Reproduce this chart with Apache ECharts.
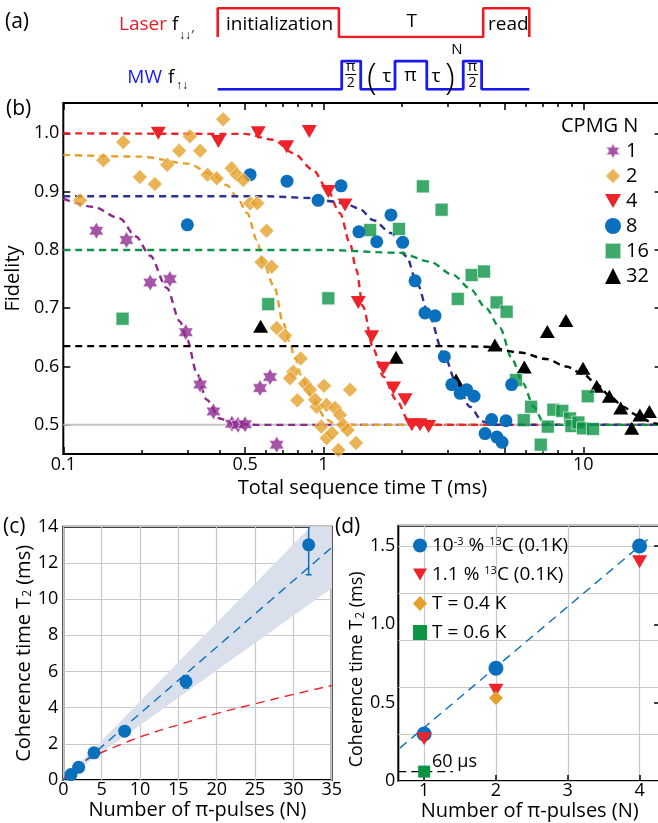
<!DOCTYPE html>
<html>
<head>
<meta charset="utf-8">
<script src="https://cdn.jsdelivr.net/npm/echarts@6/dist/echarts.min.js"></script>
<style>
  html, body { margin: 0; padding: 0; background: #fff; }
  #chart { width: 658px; height: 823px; }
</style>
</head>
<body>
<div id="chart"></div>
<script>
// ---------- (a) pulse sequence: edge times (0..100 across the sequence) and on/off state
const laserTimes = [0, 0, 38.9, 38.9, 85.2, 85.2, 100, 100];
const laserState = [0, 1, 1, 0, 0, 1, 1, 0];
const mwTimes = [0, 39.8, 39.8, 45.9, 45.9, 56.9, 56.9, 67.1, 67.1, 78.8, 78.8, 84.7, 84.7, 100];
const mwState = [0, 0, 1, 1, 0, 0, 1, 1, 0, 0, 1, 1, 0, 0];

// ---------- (b) CPMG fidelity vs total sequence time T (ms)
const cpmg1 = [[0.134,0.833],[0.175,0.817],[0.216,0.744],[0.257,0.750],[0.296,0.659],[0.336,0.569],
  [0.378,0.523],[0.445,0.502],[0.47,0.500],[0.50,0.501],[0.571,0.563],[0.624,0.582],[0.662,0.466]];
const cpmg2 = [[0.116,0.885],[0.1425,0.954],[0.170,0.985],[0.197,0.925],[0.225,0.913],[0.251,0.946],
  [0.279,0.970],[0.307,0.995],[0.336,0.970],[0.412,1.024],[0.359,0.929],[0.389,0.923],[0.444,0.940],
  [0.465,0.929],[0.492,0.920],[0.523,0.880],[0.557,0.880],[0.605,0.833],[0.579,0.779],[0.633,0.771],
  [0.662,0.666],[0.713,0.653],[0.818,0.614],[0.767,0.591],[0.745,0.580],[0.850,0.571],[0.889,0.560],
  [1.006,0.567],[1.267,0.560],[0.794,0.542],[0.943,0.531],[0.930,0.543],[1.030,0.534],[1.109,0.529],
  [1.159,0.517],[1.194,0.500],[1.240,0.491],[0.982,0.497],[1.030,0.477],[1.143,0.457],[1.336,0.469],
  [1.08,0.486]];
const cpmg4 = [[0.232,1.000],[0.395,0.986],[0.562,1.001],[0.723,0.977],[0.883,1.003],[1.045,0.900],
  [1.212,0.877],[1.363,0.710],[1.535,0.651],[1.703,0.597],[1.862,0.563],[2.063,0.543],[2.19,0.500],
  [2.355,0.500],[2.54,0.497]];
const cpmg8 = [[0.300,0.843],[0.523,0.929],[0.725,0.918],[0.955,0.885],[1.17,0.910],[1.37,0.831],
  [1.605,0.814],[1.82,0.860],[2.02,0.813],[2.253,0.747],[2.46,0.692],[2.69,0.687],[2.92,0.617],
  [3.12,0.569],[3.36,0.554],[3.56,0.560],[3.80,0.549],[4.19,0.485],[4.44,0.509],[4.65,0.479],
  [4.87,0.470],[5.04,0.507],[5.30,0.569]];
const cpmg16 = [[0.169,0.682],[0.614,0.707],[1.045,0.717],[1.513,0.834],[1.955,0.836],[2.415,0.909],
  [2.85,0.869],[3.29,0.716],[3.72,0.757],[4.15,0.763],[4.64,0.710],[5.07,0.694],[5.51,0.577],
  [5.9,0.508],[6.3,0.531],[6.86,0.466],[7.3,0.497],[7.67,0.526],[8.3,0.524],[8.89,0.511],
  [9.0,0.498],[9.57,0.504],[9.97,0.494],[10.9,0.493],[10.4,0.549]];
const cpmg32 = [[0.574,0.669],[1.905,0.616],[3.24,0.577],[4.57,0.637],[5.93,0.599],[7.27,0.660],
  [8.57,0.679],[9.97,0.597],[11.26,0.566],[12.59,0.549],[13.93,0.529],[15.35,0.494],[16.5,0.517],
  [17.95,0.523]];

// stretched-exponential fits, sampled
const fit1 = [[0.1,0.888],[0.13,0.874],[0.165,0.854],[0.19,0.823],[0.216,0.790],[0.25,0.735],
  [0.281,0.677],[0.30,0.645],[0.326,0.589],[0.356,0.543],[0.40,0.511],[0.45,0.502],[0.55,0.5],[20,0.5]];
const fit2 = [[0.1,0.963],[0.2,0.960],[0.3,0.948],[0.378,0.929],[0.426,0.911],[0.465,0.891],
  [0.51,0.863],[0.555,0.817],[0.588,0.777],[0.65,0.735],[0.70,0.675],[0.745,0.640],[0.775,0.615],
  [0.835,0.577],[0.91,0.543],[1.03,0.509],[1.12,0.5],[20,0.5]];
const fit4 = [[0.1,1.0],[0.5,0.999],[0.642,0.989],[0.767,0.966],[0.915,0.937],[1.03,0.906],
  [1.159,0.863],[1.267,0.811],[1.34,0.766],[1.42,0.703],[1.56,0.629],[1.70,0.583],[1.91,0.543],
  [2.12,0.509],[2.29,0.5],[20,0.5]];
const fit8 = [[0.1,0.892],[0.6,0.892],[0.9,0.889],[1.1,0.883],[1.27,0.876],[1.38,0.870],[1.56,0.851],
  [1.82,0.829],[2.09,0.789],[2.29,0.743],[2.56,0.686],[2.89,0.623],[3.26,0.571],[3.66,0.531],
  [4.1,0.506],[4.5,0.5],[20,0.5]];
const fit16 = [[0.1,0.80],[1.0,0.80],[1.97,0.795],[2.56,0.78],[3.16,0.757],[3.66,0.734],[4.23,0.70],
  [4.78,0.666],[5.33,0.612],[5.86,0.571],[6.45,0.531],[7.0,0.506],[7.5,0.5],[20,0.5]];
const fit32 = [[0.1,0.635],[3.0,0.635],[4.2,0.634],[5.7,0.624],[7.2,0.613],[8.6,0.600],[10.0,0.587],
  [11.3,0.569],[12.7,0.549],[14.2,0.531],[16.0,0.517],[18.6,0.503],[20,0.5]];
const halfLevel = [[0.1,0.5],[20,0.5]];

const timeMajor = [0.1, 0.5, 1, 5, 10];
const timeLabels = [0.1, 0.5, 1, 10];
const timeMinor = [0.2, 0.3, 0.4, 0.6, 0.7, 0.8, 0.9, 2, 3, 4, 6, 7, 8, 9];
const fidTicks = [0.5, 0.6, 0.7, 0.8, 0.9, 1.0];
const legendB = ['1', '2', '4', '8', '16', '32'];

// ---------- (c) T2 vs number of pi pulses
const pulses = [1, 2, 4, 8, 16, 32];
const t2 = [0.30, 0.70, 1.50, 2.70, 5.43, 13.0];
const t2Lo = [0.27, 0.66, 1.45, 2.62, 5.08, 11.35];
const t2Hi = [0.33, 0.74, 1.55, 2.78, 5.78, 14.7];
const linFit = [[0, 0], [35, 12.85]];
const bandUpper = [[0, 0], [35, 15.2]];
const bandLower = [[0, 0], [35, 10.6]];
const sublinFit = [[0,0],[0.5,0.35],[1,0.55],[2,0.85],[4,1.33],[5,1.52],[8,2.05],[10,2.38],[15,3.05],
  [20,3.67],[25,4.21],[30,4.73],[35,5.22]];

// ---------- (d) low-N comparison
const dPure = [[1, 0.30], [2, 0.72], [4, 1.50]];
const dNat = [[1, 0.27], [2, 0.58], [4, 1.40]];
const dT04 = [[2, 0.53]];
const dT06 = [[1, 0.06]];
const dFit = [[0.66, 0.21], [4.17, 1.565]];
const d60 = [[0.64, 0.06], [1.4, 0.06]];
const dTicksX = [1, 2, 3, 4];
const dTicksY = [0, 0.5, 1.0, 1.5];
const legendD = ['10⁻³ % ¹³C (0.1K)', '1.1 % ¹³C (0.1K)', 'T = 0.4 K', 'T = 0.6 K'];

const FONT = '"Open Sans","Noto Sans",sans-serif';
const COL = {
  purple: '#8E2A8F', orange: '#E5A02B', red: '#EE2229', blue: '#0A6FBD',
  navy: '#2E3192', green: '#0C9446', black: '#000000', grid: '#c8c8c8', band: '#d9e0ec'
};
const STAR = 'path://M0,-100L28.87,-50L86.6,-50L57.74,0L86.6,50L28.87,50L0,100L-28.87,50L-86.6,50L-57.74,0L-86.6,-50L-28.87,-50Z';
const DOWN_TRI = 'path://M0,0L100,0L50,87Z';

const chart = echarts.init(document.getElementById('chart'), null, { renderer: 'canvas' });

const lbl = (size, extra) => Object.assign({ color: '#000', fontSize: size, fontFamily: FONT }, extra || {});
const subRich = { sub: { fontSize: 12, fontFamily: FONT, color: '#000', verticalAlign: 'bottom', padding: [0, 0, 0, 1] } };

function fitLine(name, data, color, xi, yi, width, dash, smoothing) {
  const s = smoothing || { smooth: 0.3, smoothMonotone: 'x' };
  return Object.assign({
    name, type: 'line', xAxisIndex: xi, yAxisIndex: yi, data, symbol: 'none', silent: true, z: 2,
    lineStyle: { color, width: width || 2.4, type: dash || [7, 5] }
  }, s);
}
function dots(name, data, symbol, size, color, xi, yi, extra) {
  return Object.assign({
    name, type: 'scatter', xAxisIndex: xi, yAxisIndex: yi, data, symbol, symbolSize: size,
    silent: true, z: 3, itemStyle: { color, opacity: 1 }
  }, extra || {});
}
const edged = { borderColor: 'rgba(255,255,255,0.75)', borderWidth: 1 };

// log-time axes for panel (b)
function timeAxis(pos, ticks, len, labels, extra) {
  return Object.assign({
    gridIndex: 2, type: 'log', logBase: 10, min: 0.1, max: 20, position: pos,
    axisLine: { show: false }, splitLine: { show: false },
    axisTick: { show: true, inside: true, length: len, customValues: ticks, lineStyle: { color: '#000', width: 1.5 } },
    axisLabel: labels ? {
      show: true, customValues: timeLabels, margin: 2, hideOverlap: false,
      formatter: v => String(+Number(v).toPrecision(3)), ...lbl(18)
    } : { show: false }
  }, extra || {});
}

const option = {
  animation: false,
  backgroundColor: '#fff',
  grid: [
    { left: 217.7, top: 8.3, width: 311.6, height: 28.7, outerBoundsMode: 'none' },
    { left: 217.7, top: 61, width: 311.6, height: 28.3, outerBoundsMode: 'none' },
    { left: 63.3, top: 103, width: 598.3, height: 351, show: true, borderColor: '#000', borderWidth: 2, outerBoundsMode: 'none' },
    { left: 63.3, top: 526.7, width: 268.4, height: 253.3, show: true, borderColor: '#000', borderWidth: 2, outerBoundsMode: 'none' },
    { left: 398.3, top: 525.7, width: 262.8, height: 255.3, show: true, borderColor: '#000', borderWidth: 2, outerBoundsMode: 'none' }
  ],
  xAxis: [
    { gridIndex: 0, type: 'value', min: 0, max: 100, show: false },
    { gridIndex: 1, type: 'value', min: 0, max: 100, show: false },
    timeAxis('bottom', timeMajor, 7, true, {
      name: 'Total sequence time T (ms)', nameLocation: 'middle', nameGap: 24, nameTextStyle: lbl(20)
    }),
    timeAxis('bottom', timeMinor, 4, false),
    timeAxis('top', timeMajor, 7, false),
    timeAxis('top', timeMinor, 4, false),
    {
      gridIndex: 3, type: 'value', min: 0, max: 35, interval: 5,
      axisLine: { show: false }, axisTick: { show: false },
      splitLine: { show: true, lineStyle: { color: COL.grid, width: 1.2 } },
      axisLabel: { margin: 1, ...lbl(18) },
      name: 'Number of π-pulses (N)', nameLocation: 'middle', nameGap: 17, nameTextStyle: lbl(20)
    },
    {
      gridIndex: 4, type: 'value', min: 0.64, max: 4.3,
      axisLine: { show: false },
      axisTick: { show: true, inside: true, length: 6, customValues: dTicksX, lineStyle: { color: '#000', width: 1.5 } },
      splitLine: { show: true, lineStyle: { color: COL.grid, width: 1.2 } },
      axisLabel: { margin: 1, customValues: dTicksX, ...lbl(18) },
      name: 'Number of π-pulses (N)', nameLocation: 'middle', nameGap: 18, nameTextStyle: lbl(20)
    }
  ],
  yAxis: [
    { gridIndex: 0, type: 'value', min: 0, max: 1, show: false },
    { gridIndex: 1, type: 'value', min: 0, max: 1, show: false },
    {
      gridIndex: 2, type: 'value', min: 0.45, max: 1.052, position: 'left',
      axisLine: { show: false }, splitLine: { show: false },
      axisTick: { show: true, inside: true, length: 7, customValues: fidTicks, lineStyle: { color: '#000', width: 1.5 } },
      axisLabel: { margin: 4, customValues: fidTicks, formatter: v => Number(v).toFixed(1), ...lbl(18) },
      name: 'Fidelity', nameLocation: 'middle', nameGap: 35, nameTextStyle: lbl(20)
    },
    {
      gridIndex: 2, type: 'value', min: 0.45, max: 1.052, position: 'right',
      axisLine: { show: false }, splitLine: { show: false }, axisLabel: { show: false },
      axisTick: { show: true, inside: true, length: 7, customValues: fidTicks, lineStyle: { color: '#000', width: 1.5 } }
    },
    {
      gridIndex: 3, type: 'value', min: 0, max: 14, interval: 2,
      axisLine: { show: false }, axisTick: { show: false },
      splitLine: { show: true, lineStyle: { color: COL.grid, width: 1.2 } },
      axisLabel: { margin: 5, ...lbl(18) },
      name: 'Coherence time T{sub|2} (ms)', nameLocation: 'middle', nameGap: 25,
      nameTextStyle: { ...lbl(20), rich: subRich }
    },
    {
      gridIndex: 4, type: 'value', min: 0, max: 1.63, position: 'left',
      axisLine: { show: false },
      axisTick: { show: false },
      splitLine: { show: true, lineStyle: { color: COL.grid, width: 1.2 } },
      axisLabel: { margin: 3, customValues: dTicksY, formatter: v => (v === 0 ? '0' : Number(v).toFixed(1)), ...lbl(18) },
      name: 'Coherence time T{sub|2} (ms)', nameLocation: 'middle', nameGap: 29,
      nameTextStyle: { ...lbl(18), rich: subRich, padding: [0, 32, 0, 0] }
    },
    {
      gridIndex: 4, type: 'value', min: 0, max: 1.63, position: 'right',
      axisLine: { show: false }, splitLine: { show: false }, axisLabel: { show: false },
      axisTick: { show: true, inside: true, length: 7, customValues: [0.5, 1.0, 1.5], lineStyle: { color: '#000', width: 1.5 } }
    }
  ],
  legend: [
    {
      data: legendB, orient: 'vertical', left: 604, top: 141, itemWidth: 16, itemHeight: 16, itemGap: 5,
      textStyle: lbl(20), selectedMode: false, padding: 0
    },
    {
      data: legendD, orient: 'vertical', left: 413, top: 536, itemWidth: 14, itemHeight: 15, itemGap: 10,
      textStyle: {
        ...lbl(19),
        rich: { sup: { fontSize: 11, fontFamily: FONT, color: '#000', verticalAlign: 'top', lineHeight: 12 } }
      },
      formatter: name => name
        .replace('10⁻³', '10{sup|-3}')
        .replace('¹³C', '{sup|13}C'),
      selectedMode: false, padding: 0
    }
  ],
  series: [
    // (a) pulse sequence
    {
      type: 'line', xAxisIndex: 0, yAxisIndex: 0, symbol: 'none', silent: true,
      data: laserTimes.map((t, i) => [t, laserState[i]]),
      lineStyle: { color: '#ED1C24', width: 2.6 }
    },
    {
      type: 'line', xAxisIndex: 1, yAxisIndex: 1, symbol: 'none', silent: true,
      data: mwTimes.map((t, i) => [t, mwState[i]]),
      lineStyle: { color: '#1A1AF0', width: 2.8 }
    },

    // (b) fits
    { name: 'half', type: 'line', xAxisIndex: 2, yAxisIndex: 2, data: halfLevel, symbol: 'none', silent: true, z: 1,
      lineStyle: { color: '#c4c4c4', width: 2 } },
    fitLine('fit N=1', fit1, COL.purple, 2, 2),
    fitLine('fit N=2', fit2, COL.orange, 2, 2),
    fitLine('fit N=4', fit4, COL.red, 2, 2),
    fitLine('fit N=8', fit8, COL.navy, 2, 2),
    fitLine('fit N=16', fit16, COL.green, 2, 2),
    fitLine('fit N=32', fit32, COL.black, 2, 2),

    // (b) measured fidelities
    dots('32', cpmg32, 'triangle', [15, 13], COL.black, 2, 2),
    dots('16', cpmg16, 'rect', 13, COL.green, 2, 2, { itemStyle: { color: COL.green, ...edged } }),
    dots('8', cpmg8, 'circle', 13, COL.blue, 2, 2),
    dots('4', cpmg4, DOWN_TRI, [15, 13], COL.red, 2, 2),
    dots('1', cpmg1, STAR, 17, COL.purple, 2, 2, { symbolKeepAspect: true, itemStyle: { color: COL.purple, ...edged } }),
    dots('2', cpmg2, 'diamond', 15, COL.orange, 2, 2, { itemStyle: { color: COL.orange, ...edged } }),

    // (c) confidence band of the linear fit
    {
      type: 'custom', xAxisIndex: 6, yAxisIndex: 4, silent: true, clip: true, z: 1,
      data: [[0, 0]],
      renderItem: (params, api) => {
        const pts = bandUpper.map(p => api.coord(p))
          .concat(bandLower.slice().reverse().map(p => api.coord(p)));
        return { type: 'polygon', shape: { points: pts }, style: { fill: COL.band } };
      }
    },
    fitLine('sublinear', sublinFit, COL.red, 6, 4, 1.4, [9, 6], { smooth: 0.5 }),
    fitLine('linear', linFit, COL.blue, 6, 4, 1.4, [9, 6], { smooth: false }),
    {
      type: 'custom', xAxisIndex: 6, yAxisIndex: 4, silent: true, clip: true, z: 3,
      data: pulses.map((n, i) => [n, t2Lo[i], t2Hi[i]]),
      encode: { x: 0, y: [1, 2] },
      renderItem: (params, api) => {
        const x = api.value(0);
        const lo = api.coord([x, api.value(1)]);
        const hi = api.coord([x, api.value(2)]);
        const st = { stroke: COL.blue, lineWidth: 1.5 };
        return {
          type: 'group', children: [
            { type: 'line', shape: { x1: lo[0], y1: lo[1], x2: hi[0], y2: hi[1] }, style: st },
            { type: 'line', shape: { x1: lo[0] - 3, y1: lo[1], x2: lo[0] + 3, y2: lo[1] }, style: st },
            { type: 'line', shape: { x1: hi[0] - 3, y1: hi[1], x2: hi[0] + 3, y2: hi[1] }, style: st }
          ]
        };
      }
    },
    dots('T2', pulses.map((n, i) => [n, t2[i]]), 'circle', 13, COL.blue, 6, 4, { z: 4 }),

    // (d)
    fitLine('dfit', dFit, COL.blue, 7, 5, 1.4, [9, 6], { smooth: false }),
    { type: 'line', xAxisIndex: 7, yAxisIndex: 5, data: d60, symbol: 'none', silent: true,
      lineStyle: { color: '#000', width: 1.4, type: [8, 5] } },
    dots(legendD[0], dPure, 'circle', 15, COL.blue, 7, 5),
    dots(legendD[1], dNat, DOWN_TRI, [15, 13], COL.red, 7, 5),
    dots(legendD[2], dT04, 'diamond', 14, COL.orange, 7, 5),
    dots(legendD[3], dT06, 'rect', 12, COL.green, 7, 5)
  ],
  graphic: []
};

// text annotations
function txt(x, y, text, size, extra) {
  return {
    type: 'text', x, y, silent: true, z: 100,
    style: Object.assign({
      text, fill: '#000', fontSize: size || 19, fontFamily: FONT,
      textAlign: 'left', textVerticalAlign: 'middle'
    }, extra || {})
  };
}
function frac(cx) {
  return [
    txt(cx, 67, 'π', 15, { textAlign: 'center' }),
    { type: 'line', silent: true, z: 100, shape: { x1: cx - 5.5, y1: 74.5, x2: cx + 5.5, y2: 74.5 }, style: { stroke: '#000', lineWidth: 1 } },
    txt(cx, 83, '2', 14, { textAlign: 'center' })
  ];
}
option.graphic = [
  txt(5, 22, '(a)', 21),
  txt(167, 25, 'Laser', 19, { fill: '#ED1C24', textAlign: 'right' }),
  txt(172, 25, 'f', 19),
  txt(179, 36, '↓↓′', 12),
  txt(162, 78, 'MW', 19, { fill: '#1A1AF0', textAlign: 'right' }),
  txt(168, 78, 'f', 19),
  txt(176, 86, '↑↓', 12),
  txt(226, 25, 'initialization', 19),
  txt(411.7, 22, 'T', 19, { textAlign: 'center' }),
  txt(488, 25, 'read', 19),
  ...frac(350.7),
  ...frac(472.5),
  txt(372, 79, '(', 36, { textAlign: 'center', fontWeight: 300 }),
  txt(386.7, 77, 'τ', 19, { textAlign: 'center' }),
  txt(410.5, 76, 'π', 19, { textAlign: 'center' }),
  txt(436, 77, 'τ', 19, { textAlign: 'center' }),
  txt(450, 79, ')', 36, { textAlign: 'center', fontWeight: 300 }),
  txt(457, 50, 'N', 15, { textAlign: 'center' }),
  txt(6, 109, '(b)', 21),
  txt(561, 126, 'CPMG N', 20),
  txt(3, 527, '(c)', 21),
  txt(335, 527, '(d)', 21),
  txt(432, 762, '60 μs', 18)
];

chart.setOption(option);
</script>
</body>
</html>
